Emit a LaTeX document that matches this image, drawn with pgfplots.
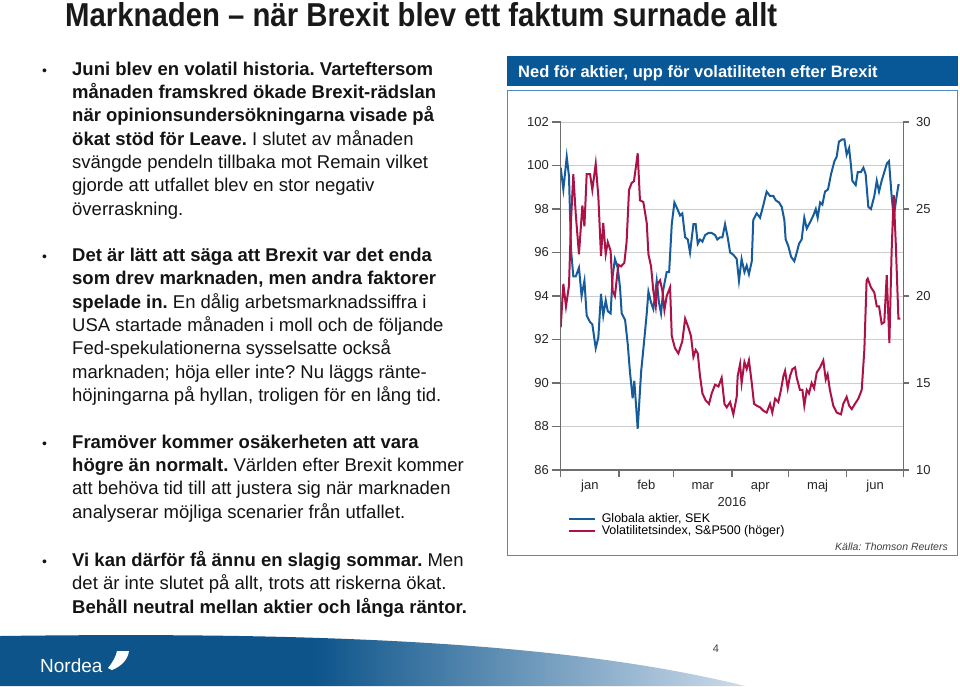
\documentclass[border=0pt]{standalone}
\usepackage{fontspec}
\setmainfont{Liberation Sans}
\usepackage{pgfplots}
\pgfplotsset{compat=1.18}
\frenchspacing
\definecolor{lineblue}{RGB}{22,92,156}
\definecolor{linered}{RGB}{172,18,72}
\definecolor{hdrblue}{RGB}{8,88,152}
\definecolor{boxblue}{RGB}{80,140,195}
\definecolor{nbdark}{RGB}{12,84,138}
\definecolor{nblight}{RGB}{205,220,235}
\definecolor{axgray}{RGB}{110,110,110}
\definecolor{gridgray}{RGB}{205,205,205}
\pgfdeclarehorizontalshading{swoosh}{100bp}{color(0bp)=(nbdark); color(25bp)=(nbdark); color(46bp)=(nbdark); color(75bp)=(nblight); color(100bp)=(nblight)}
\newcommand\bl[2]{\node[anchor=base west, inner sep=0pt] at (72pt,-#1pt) {#2};}
\newcommand\bul[1]{\node[anchor=base, inner sep=0pt, font=\fontsize{14pt}{14pt}\selectfont] at (44.5pt,-#1pt) {•};}
\begin{document}
\begin{tikzpicture}
\useasboundingbox (0,0) rectangle (960pt,-686pt);
\fill[white] (0,0) rectangle (960pt,-686pt);
% title
\node[anchor=south west, inner sep=0pt, text=black!90] at (65pt,-27pt) {\resizebox{712pt}{24pt}{\bfseries Marknaden – när Brexit blev ett faktum surnade allt}};
% bullets
\begin{scope}[every node/.style={font=\fontsize{18.5pt}{22pt}\selectfont, text=black!92}]
\bul{75}
\bl{75}{\textbf{Juni blev en volatil historia. Varteftersom}}
\bl{98.3}{\textbf{månaden framskred ökade Brexit-rädslan}}
\bl{121.7}{\textbf{när opinionsundersökningarna visade på}}
\bl{145}{\textbf{ökat stöd för Leave.} I slutet av månaden}
\bl{168.3}{svängde pendeln tillbaka mot Remain vilket}
\bl{191.7}{gjorde att utfallet blev en stor negativ}
\bl{215}{överraskning.}
\bul{261.5}
\bl{261.5}{\textbf{Det är lätt att säga att Brexit var det enda}}
\bl{284.8}{\textbf{som drev marknaden, men andra faktorer}}
\bl{308.2}{\textbf{spelade in.} En dålig arbetsmarknadssiffra i}
\bl{331.5}{USA startade månaden i moll och de följande}
\bl{354.8}{Fed-spekulationerna sysselsatte också}
\bl{378.2}{marknaden; höja eller inte? Nu läggs ränte-}
\bl{401.5}{höjningarna på hyllan, troligen för en lång tid.}
\bul{448.2}
\bl{448.2}{\textbf{Framöver kommer osäkerheten att vara}}
\bl{471.5}{\textbf{högre än normalt.} Världen efter Brexit kommer}
\bl{494.8}{att behöva tid till att justera sig när marknaden}
\bl{518.2}{analyserar möjliga scenarier från utfallet.}
\bul{566.5}
\bl{566.5}{\textbf{Vi kan därför få ännu en slagig sommar.} Men}
\bl{589.8}{det är inte slutet på allt, trots att riskerna ökat.}
\bl{613.2}{\textbf{Behåll neutral mellan aktier och långa räntor.}}
\end{scope}
% chart panel
\fill[hdrblue] (507pt,-56pt) rectangle (958pt,-86pt);
\node[anchor=base west, inner sep=0pt, text=white, font=\bfseries\fontsize{16.5pt}{18pt}\selectfont] at (518pt,-77pt) {Ned för aktier, upp för volatiliteten efter Brexit};
\draw[boxblue, line width=1pt] (507pt,-90pt) rectangle (957pt,-555pt);
\begin{axis}[
  at={(560.7pt,-470pt)}, anchor=south west,
  scale only axis, width=342.6pt, height=348pt,
  xmin=0, xmax=182, ymin=86, ymax=102,
  axis x line*=bottom, axis y line*=left,
  xtick={0,31,60,91,121,152,182},
  xticklabels={jan,feb,mar,apr,maj,jun},
  x tick label as interval,
  ytick={86,88,...,102},
  ymajorgrids, major grid style={gridgray, line width=0.9pt},
  axis line style={axgray, line width=1.2pt},
  tick style={axgray, line width=1.2pt},
  tick align=outside,
  xtick style={/pgfplots/major tick length=7pt},
  ytick style={/pgfplots/major tick length=9pt},
  ticklabel style={font=\fontsize{13pt}{15pt}\selectfont, text=black!85},
  xticklabel style={text height=9.5pt, text depth=3pt, yshift=-2pt},
  yticklabel style={xshift=-4pt},
  xlabel={2016}, xlabel style={font=\fontsize{13pt}{15pt}\selectfont, text=black!85, yshift=2pt},
  /pgf/number format/assume math mode=true,
]
\addplot[lineblue, line width=2pt] coordinates {
(0,99.9)(1.4,98.9)(3.2,100.4)(4.4,99.5)(5.5,96.1)(6.7,94.9)(8.0,94.9)(9.7,95.3)(11.1,94.0)(12.6,94.7)(13.8,93.1)(15.6,92.8)(16.8,92.7)(18.6,91.6)(20.0,92.1)(21.4,94.1)(22.6,93.1)(23.9,93.8)(25.0,93.3)(26.5,93.2)(27.6,94.9)(28.8,95.7)(30.3,95.3)(31.5,94.4)(32.4,93.2)(34.2,92.9)(35.6,91.8)(36.8,90.5)(38.2,89.3)(39.1,90.1)(40.9,87.9)(42.7,90.5)(44.4,92.0)(45.7,93.2)(46.6,94.2)(48.0,93.7)(49.2,93.4)(51.0,94.7)(52.2,93.7)(53.3,93.2)(54.5,94.3)(56.3,95.1)(57.6,95.1)(59.0,97.3)(60.4,98.3)(62.0,98.0)(63.4,97.7)(64.6,97.8)(66.1,96.7)(67.5,96.6)(68.7,96.0)(70.5,97.3)(71.7,97.3)(72.8,96.4)(74.0,96.6)(75.3,96.5)(76.7,96.8)(78.5,96.9)(80.2,96.9)(82.0,96.8)(83.2,96.6)(84.7,96.7)(85.9,96.7)(87.3,97.3)(88.7,96.7)(90.0,96.0)(91.7,95.9)(93.5,95.7)(94.7,94.7)(96.1,95.7)(97.6,95.1)(98.8,95.4)(100.0,95.0)(101.5,95.6)(102.3,97.5)(104.1,97.8)(105.9,97.6)(107.7,98.2)(109.4,98.8)(111.2,98.6)(113.0,98.6)(114.2,98.4)(116.0,98.3)(117.4,98.1)(118.8,97.5)(119.5,96.6)(120.9,96.3)(122.4,95.8)(124.1,95.6)(125.4,96.0)(126.6,96.4)(128.0,96.6)(129.4,97.6)(130.7,97.1)(132.5,97.4)(134.2,97.7)(135.5,98.0)(136.5,97.6)(137.8,98.3)(139.0,98.2)(140.4,98.8)(142.0,98.9)(143.6,99.6)(145.4,100.2)(146.6,100.4)(147.8,101.1)(149.6,101.2)(150.7,101.2)(151.9,100.5)(153.2,100.8)(154.2,100.0)(154.9,99.3)(156.7,99.1)(157.8,99.7)(159.5,99.7)(160.8,99.9)(162.0,99.6)(163.4,98.1)(164.8,98.0)(166.6,98.6)(167.9,99.3)(169.1,98.8)(170.5,99.3)(171.9,99.7)(173.3,100.1)(174.4,100.2)(175.8,98.6)(176.9,97.6)(178.3,98.5)(179.4,99.1)(180.1,99.1)
};
\end{axis}
\begin{axis}[
  at={(560.7pt,-470pt)}, anchor=south west,
  scale only axis, width=342.6pt, height=348pt,
  xmin=0, xmax=182, ymin=10, ymax=30,
  axis x line=none, axis y line*=right,
  ytick={10,15,...,30},
  axis line style={axgray, line width=1.2pt},
  tick style={axgray, line width=1.2pt},
  tick align=outside,
  ytick style={/pgfplots/major tick length=6pt},
  ticklabel style={font=\fontsize{13pt}{15pt}\selectfont, text=black!85},
  yticklabel style={xshift=5pt},
  /pgf/number format/assume math mode=true,
  legend style={at={(axis description cs:0.02,-0.118)}, anchor=north west, draw=none, fill=none, inner sep=0pt, row sep=-2pt, column sep=4pt, font=\fontsize{12.5pt}{14pt}\selectfont, cells={anchor=west}},
  legend image code/.code={\draw[#1, line width=2pt] (0pt,0pt) -- (26pt,0pt);},
]
\addlegendimage{lineblue, line width=2pt}
\addlegendentry{Globala aktier, SEK}
\addplot[linered, line width=2pt] coordinates {
(0,18.2)(1.4,20.7)(2.8,19.4)(4.4,20.6)(5.5,24.4)(6.7,27.0)(8.0,24.7)(9.7,22.4)(11.5,25.2)(12.6,24.0)(13.8,27.0)(15.6,27.0)(16.8,26.1)(18.6,27.6)(20.0,25.7)(21.4,22.3)(22.6,24.2)(23.9,22.4)(25.0,23.1)(26.5,22.6)(27.6,20.3)(28.8,20.0)(30.6,21.8)(32.0,21.7)(33.8,21.9)(35.0,23.1)(36.3,26.1)(37.7,26.5)(38.9,26.6)(39.8,27.3)(40.9,28.2)(42.1,25.5)(43.9,25.4)(45.7,24.2)(46.6,22.4)(48.0,21.7)(49.2,20.3)(50.5,19.4)(51.5,20.7)(52.8,20.9)(54.0,20.3)(55.1,19.2)(56.3,20.0)(58.1,20.5)(59.0,17.7)(60.7,17.0)(62.5,16.7)(64.6,17.4)(66.1,18.7)(67.8,18.2)(69.2,17.7)(70.5,16.5)(71.7,16.9)(72.8,16.7)(74.0,15.4)(75.3,14.4)(77.0,14.0)(78.8,13.8)(80.2,14.4)(82.0,14.9)(83.8,14.8)(85.5,15.3)(87.0,13.8)(88.2,13.6)(90.0,13.9)(91.7,13.2)(93.5,14.2)(94.0,15.4)(95.3,16.1)(96.1,15.0)(97.6,16.2)(98.8,15.8)(100.0,16.3)(101.5,15.0)(102.7,13.8)(104.1,13.7)(105.9,13.6)(107.7,13.4)(109.4,13.3)(111.2,13.8)(112.4,13.3)(113.9,14.1)(115.6,13.9)(117.0,14.6)(118.3,15.4)(119.2,15.7)(120.6,14.7)(121.8,15.4)(123.1,15.8)(124.5,15.9)(125.4,15.3)(127.1,14.6)(128.4,14.6)(129.4,13.7)(130.7,14.6)(131.9,14.4)(133.3,15.0)(134.6,14.7)(136.0,15.6)(137.8,15.9)(139.5,16.3)(140.8,15.2)(141.8,15.5)(143.0,14.6)(144.8,13.7)(146.6,13.3)(148.9,13.2)(150.1,13.8)(151.9,14.2)(153.2,13.7)(154.6,13.5)(156.3,13.8)(158.1,14.1)(159.9,14.6)(161.3,16.9)(162.5,20.9)(163.1,21.0)(164.8,20.5)(166.6,20.2)(167.9,19.4)(169.1,19.4)(170.5,18.4)(171.9,18.5)(173.2,21.2)(174.6,17.3)(175.8,22.6)(176.9,25.8)(178.0,23.0)(179.4,18.7)(180.4,18.7)
};
\addlegendentry{Volatilitetsindex, S\&P500 (höger)}
\end{axis}
\node[anchor=base east, inner sep=0pt, font=\itshape\fontsize{10.5pt}{12pt}\selectfont, text=black!75] at (948pt,-550pt) {Källa: Thomson Reuters};
% footer
\shade[shading=swoosh] (0,-636pt) .. controls (300pt,-632pt) and (560pt,-640pt) .. (745pt,-686pt) -- (0,-686pt) -- cycle;
\node[anchor=base west, inner sep=0pt, text=white, font=\fontsize{19pt}{20pt}\selectfont] at (40pt,-672pt) {Nordea};
\fill[white] (108pt,-668pt) .. controls (113pt,-662pt) and (116pt,-656pt) .. (117pt,-651pt) -- (129pt,-651pt) .. controls (128pt,-659pt) and (122pt,-666pt) .. (112pt,-670pt) -- cycle;
\node[font=\fontsize{11pt}{12pt}\selectfont, text=black!75] at (716pt,-649pt) {4};
\end{tikzpicture}
\end{document}
